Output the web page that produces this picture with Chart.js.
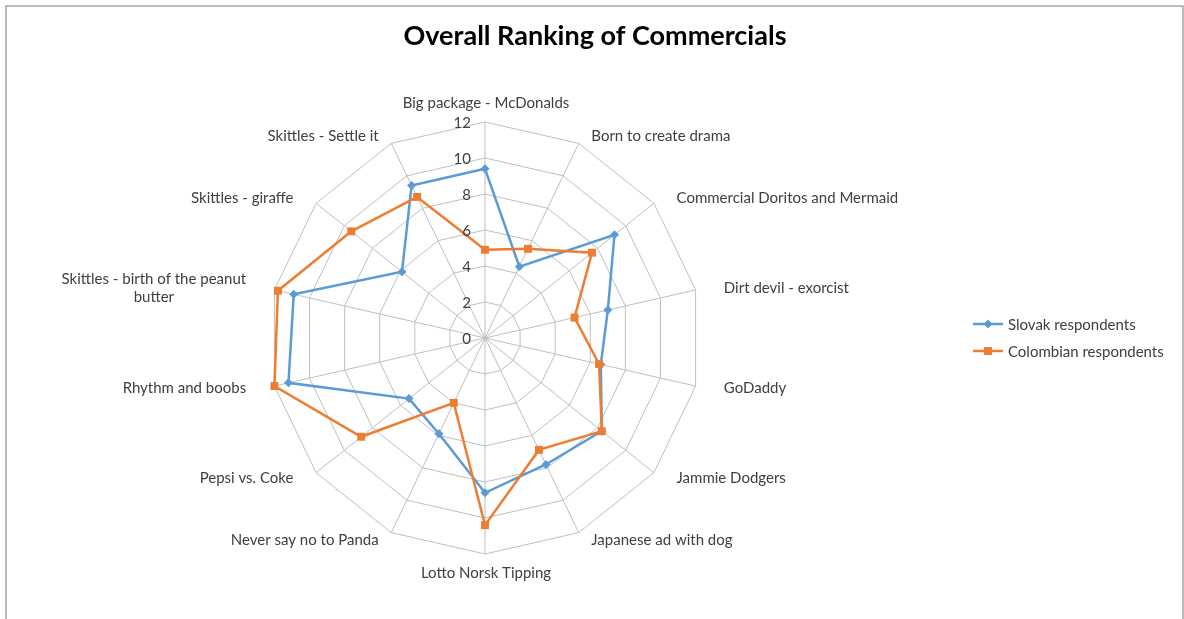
<!DOCTYPE html>
<html>
<head>
<meta charset="utf-8">
<title>Overall Ranking of Commercials</title>
<script src="https://cdn.jsdelivr.net/npm/chart.js@4/dist/chart.umd.min.js"></script>
<style>
html, body { margin: 0; padding: 0; background: #fff; }
#wrap { width: 1184px; height: 619px; }
</style>
</head>
<body>
<div id="wrap"><canvas id="radar-graph" width="1184" height="619"></canvas></div>
<script>
// chart data
const chartTitle = 'Overall Ranking of Commercials';
const labels = [
	'Big package - McDonalds',
	'Born to create drama',
	'Commercial Doritos and Mermaid',
	'Dirt devil - exorcist',
	'GoDaddy',
	'Jammie Dodgers',
	'Japanese ad with dog',
	'Lotto Norsk Tipping',
	'Never say no to Panda',
	'Pepsi vs. Coke',
	'Rhythm and boobs',
	['Skittles - birth of the peanut', 'butter'],
	'Skittles - giraffe',
	'Skittles - Settle it'
];
const seriesNames = ['Slovak respondents', 'Colombian respondents'];
const slovakValues = [9.4, 4.4, 9.2, 7.0, 6.6, 8.3, 7.8, 8.6, 5.9, 5.4, 11.2, 10.9, 5.9, 9.4];
const colombianValues = [4.9, 5.5, 7.6, 5.1, 6.5, 8.3, 6.9, 10.4, 4.0, 8.8, 12.0, 11.8, 9.5, 8.7];
const tickValues = [0, 2, 4, 6, 8, 10, 12];

const FONT = 'Lato, "Noto Sans", sans-serif';
const TEXT_COLOR = '#404040';
const seriesColors = ['#5B9BD5', '#ED7D31'];
const seriesMarkers = [
	{ pointStyle: 'rectRot', radius: 4.5 },
	{ pointStyle: 'rect', radius: 5.6 }
];

const makeDataset = (k, values) => {
	return {
		label: seriesNames[k],
		data: values,
		borderColor: seriesColors[k],
		backgroundColor: seriesColors[k],
		pointBackgroundColor: seriesColors[k],
		pointBorderColor: seriesColors[k],
		pointBorderWidth: 0,
		pointStyle: seriesMarkers[k].pointStyle,
		pointRadius: seriesMarkers[k].radius,
		borderWidth: 2.5,
		fill: false,
		tension: 0,
		order: k == 0 ? 1 : 0
	};
};

// title, frame, axis labels and legend drawn around the radar scale
const decorations = {
	id: 'decorations',
	beforeDraw(chart) {
		const ctx = chart.ctx;
		ctx.save();
		ctx.fillStyle = '#fff';
		ctx.fillRect(0, 0, chart.width, chart.height);
		ctx.strokeStyle = '#a6a6a6';
		ctx.lineWidth = 1.5;
		ctx.strokeRect(6, 6, chart.width - 7, chart.height + 20);
		ctx.restore();
	},
	afterDraw(chart) {
		const ctx = chart.ctx;
		const scale = chart.scales.r;
		ctx.save();

		// title
		ctx.fillStyle = '#000';
		ctx.font = 'bold 27px ' + FONT;
		ctx.textAlign = 'center';
		ctx.textBaseline = 'middle';
		ctx.fillText(chartTitle, 595, 36);

		// tick labels, left of the vertical axis
		ctx.font = '15px ' + FONT;
		ctx.fillStyle = TEXT_COLOR;
		ctx.textAlign = 'right';
		for (let v of tickValues) {
			const d = scale.getDistanceFromCenterForValue(v);
			ctx.fillText(String(v), scale.xCenter - 14, scale.yCenter - d + 1);
		}

		// category labels
		ctx.font = '15px ' + FONT;
		const lineH = 18;
		for (let i = 0; i < labels.length; i++) {
			const a = scale.getIndexAngle(i);
			const s = Math.sin(a), c = Math.cos(a);
			const end = scale.getPointPosition(i, scale.drawingArea);
			const lines = Array.isArray(labels[i]) ? labels[i] : [labels[i]];
			let x, y, align;
			if (Math.abs(s) < 0.05) {
				x = end.x + 1;
				y = end.y + (c > 0 ? -19 : 19);
				align = 'center';
			} else {
				x = end.x + 29 * s;
				y = end.y - 8 * c;
				align = s > 0 ? 'left' : 'right';
			}
			let maxW = 0;
			for (let l of lines) maxW = Math.max(maxW, ctx.measureText(l).width);
			let cx = x;
			if (align == 'left') cx = x + maxW / 2;
			if (align == 'right') cx = x - maxW / 2;
			ctx.textAlign = 'center';
			const top = y - (lines.length - 1) * lineH / 2;
			lines.forEach((l, j) => ctx.fillText(l, cx, top + j * lineH));
		}

		// legend
		chart.data.datasets.forEach((ds, k) => {
			const ly = 324 + 27 * k;
			ctx.strokeStyle = ds.borderColor;
			ctx.lineWidth = 2.5;
			ctx.beginPath();
			ctx.moveTo(973, ly);
			ctx.lineTo(1003, ly);
			ctx.stroke();
			ctx.fillStyle = ds.borderColor;
			Chart.helpers.drawPoint(ctx, { pointStyle: ds.pointStyle, radius: ds.pointRadius, rotation: 0, borderWidth: 0 }, 988, ly);
			ctx.fillStyle = TEXT_COLOR;
			ctx.textAlign = 'left';
			ctx.fillText(ds.label, 1008, ly + 1);
		});

		ctx.restore();
	}
};

var ctx = document.getElementById('radar-graph').getContext('2d');

var radarGraph = new Chart(ctx, {
	type: 'radar',
	data: {
		labels: labels,
		datasets: [
			makeDataset(0, slovakValues),
			makeDataset(1, colombianValues)
		]
	},
	options: {
		responsive: false,
		animation: false,
		devicePixelRatio: 1,
		layout: {
			padding: { left: 268, right: 482, top: 122, bottom: 64 }
		},
		plugins: {
			legend: { display: false },
			title: { display: false },
			tooltip: { enabled: false }
		},
		elements: {
			line: { tension: 0 }
		},
		scales: {
			r: {
				min: 0,
				max: 12,
				beginAtZero: true,
				ticks: { display: false, stepSize: 2 },
				pointLabels: { display: false },
				grid: { circular: false, color: '#bfbfbf', lineWidth: 1 },
				angleLines: { color: '#bfbfbf', lineWidth: 1 }
			}
		}
	},
	plugins: [decorations]
});
</script>
</body>
</html>
